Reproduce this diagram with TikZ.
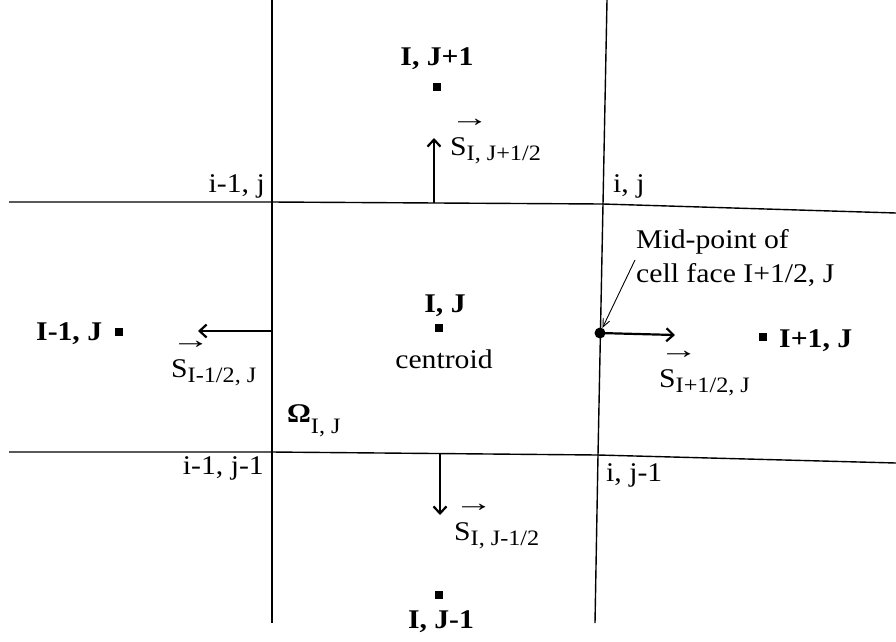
\documentclass[tikz,border=0pt]{standalone}
\usepackage{fontspec}
\setmainfont{Liberation Serif}[FakeStretch=1.1]
\usetikzlibrary{arrows.meta, positioning}
% face-area vector: S with arrow above and a lowered subscript
\newcommand{\fluxS}[1]{\rlap{\raisebox{29pt}{\fontsize{17}{17}\selectfont\scalebox{2.1}[1.5]{→}}}S\raisebox{-5pt}{\fontsize{22}{22}\selectfont#1}}

\begin{document}
\begin{tikzpicture}[x=1pt, y=-1pt,
  gridline/.style={line width=1.4pt},
  flux/.style={line width=2.2pt, -{Straight Barb[length=7pt, width=13pt]}},
  leader/.style={line width=0.9pt, -{Straight Barb[length=8pt, width=7pt]}},
  cellpt/.style={fill, inner sep=0pt, minimum size=7.5pt},
  bigtxt/.style={inner sep=0pt, font=\fontsize{27}{32}\selectfont\bfseries},
  smalltxt/.style={inner sep=0pt, font=\fontsize{27}{34}\selectfont}]
  \useasboundingbox (0,0) rectangle (896,641);
  % grid vertices
  \coordinate (vA) at (272,202); % i-1, j
  \coordinate (vB) at (603,204); % i, j
  \coordinate (vC) at (272,452); % i-1, j-1
  \coordinate (vD) at (598,455); % i, j-1
  % grid lines
  \draw[gridline] (9,202) -- (vA) -- (vB) -- (896,213);
  \draw[gridline] (9,452) -- (vC) -- (vD) -- (896,463);
  \draw[gridline] (272,0) -- (vA) -- (vC) -- (272,623);
  \draw[gridline] (607,0) -- (vB) -- (vD) -- (595,623);
  % vertex labels
  \node[smalltxt, anchor=base east] (lA) at (265,192) {i-1, j};
  \node[smalltxt, anchor=base west] (lB) at (613,192) {i, j};
  \node[smalltxt, anchor=base east] (lC) at (264,474) {i-1, j-1};
  \node[smalltxt, anchor=base west] (lD) at (606,481) {i, j-1};
  % cell centroids
  \node[cellpt] (cIJ) at (439,328) {};
  \node[cellpt] (cN) at (437,87) {};
  \node[cellpt] (cS) at (439,595) {};
  \node[cellpt] (cW) at (119,332) {};
  \node[cellpt] (cE) at (763,337) {};
  \node[bigtxt, anchor=base] (tIJ) at (445,312) {I, J};
  \node[smalltxt, anchor=base] (tcen) at (444,368) {centroid};
  \node[bigtxt, anchor=base] (tN) at (437,65) {I, J+1};
  \node[bigtxt, anchor=base] (tS) at (441,628) {I, J-1};
  \node[bigtxt, anchor=base west] (tW) at (36,340) {I-1, J};
  \node[bigtxt, anchor=base west] (tE) at (779,347) {I+1, J};
  % cell volume
  \node[smalltxt, anchor=base west] (om) at (287,422) {\textbf{Ω}\raisebox{-11pt}{\fontsize{22}{22}\selectfont I, J}};
  % face vectors
  \coordinate (fN) at (434,203);
  \coordinate (fNt) at (434,138);
  \coordinate (fW) at (272,331);
  \coordinate (fWt) at (198,331);
  \coordinate (fS) at (440,453);
  \coordinate (fSt) at (440,515);
  \coordinate (fEt) at (675,335);
  \node[circle, fill, inner sep=0pt, minimum size=11pt] (mid) at (600,333) {};
  \draw[flux] (fN) -- (fNt);
  \draw[flux] (fW) -- (fWt);
  \draw[flux] (fS) -- (fSt);
  \draw[flux] (mid.center) -- (fEt);
  \node[smalltxt, anchor=base west] (sN) at (450,155) {\fluxS{I, J+1/2}};
  \node[smalltxt, anchor=base west] (sW) at (171,377) {\fluxS{I-1/2, J}};
  \node[smalltxt, anchor=base west] (sE) at (659,387) {\fluxS{I+1/2, J}};
  \node[smalltxt, anchor=base west] (sS) at (454,540) {\fluxS{I, J-1/2}};
  % mid-point note
  \node[smalltxt, anchor=base west, align=left] (note) at (636,282) {Mid-point of\\cell face I+1/2, J};
  \coordinate (ldr) at (635,260);
  \draw[leader] (ldr) -- (mid);
\end{tikzpicture}
\end{document}
